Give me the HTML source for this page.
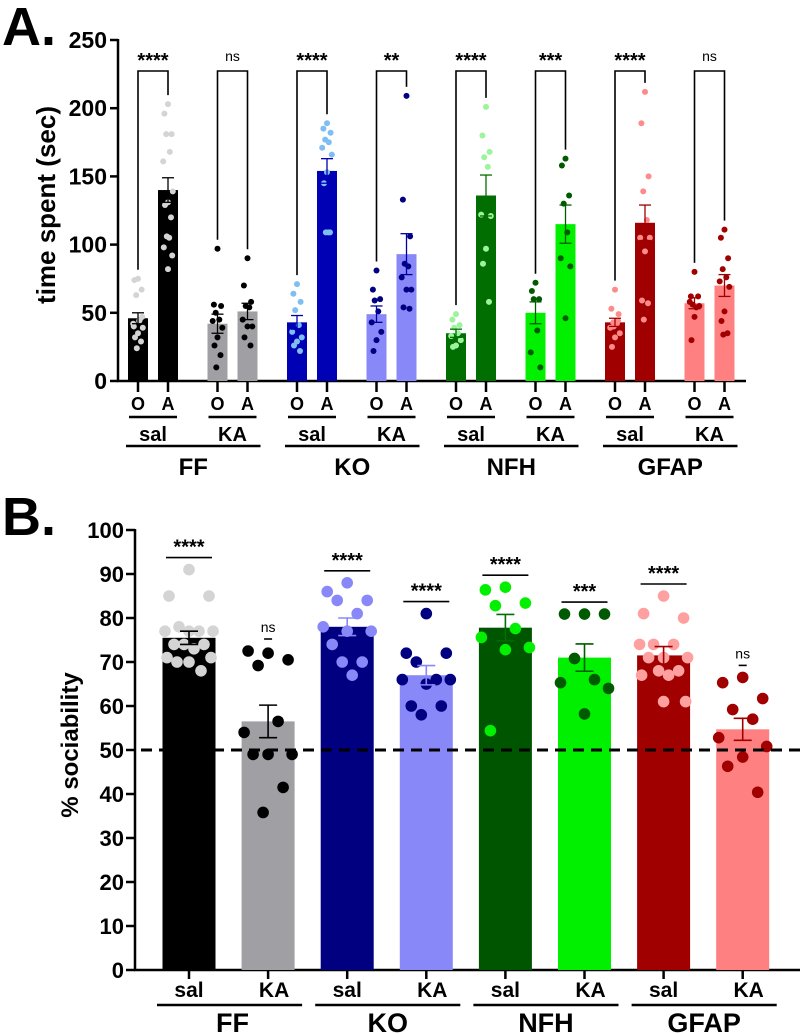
<!DOCTYPE html>
<html><head><meta charset="utf-8"><style>
html,body{margin:0;padding:0;background:#fff;}
svg{display:block;font-family:"Liberation Sans",Arial,sans-serif;}
</style></head><body>
<svg id="fig" width="800" height="1034" viewBox="0 0 800 1034"></svg>
<script>
// ---------- Panel A data ----------
const aGroups = ["FF","KO","NFH","GFAP"];
const aTreat = ["sal","KA"];
const aMeansO = [46,42,43,49,35,50,43,57];
const aMeansA = [140,51,154,93,136,115,116,70];
const aErrO = [4,7,5,6,3,8,3,4];
const aErrA = [9,6,9,15,15,14,13,8];
const aSig = ["****","ns","****","**","****","***","****","ns"];
const aDotsO = [
 [75,74,67,63,45,42,39,35,32,29,24,44,40,47],
 [97,56,55,50,45,44,39,32,26,19,10],
 [71,64,58,52,41,36,32,29,26,22],
 [81,67,60,59,51,43,36,30,22],
 [49,45,41,39,35,33,30,26,25],
 [72,66,60,60,37,21,10],
 [67,53,49,43,42,39,35,32,25,44,40],
 [80,62,62,56,54,58,55,47,30]
];
const aDotsA = [
 [203,196,181,181,168,161,139,131,129,120,106,105,98,92,82],
 [90,70,58,55,54,45,40,40,32,26],
 [189,185,182,177,175,171,166,153,145,109,109,109],
 [209,133,106,86,84,76,67,67,54,53],
 [201,180,168,164,157,122,121,97,86,58],
 [163,158,136,130,109,90,84,46],
 [212,189,150,139,118,105,105,95,59,57,45],
 [111,105,90,82,76,73,69,51,44,35,34]
];
// ---------- Panel B data ----------
const bMeans = [75.5,56.5,78,67,77.8,71,71.5,54.7];
const bErr = [1.5,3.7,2,2.2,3,3.1,2,2.5];
const bSig = ["****","ns","****","****","****","***","****","ns"];
const bDots = [
 [91,85,85,78,77,77,77,77,74,74,74,73,71,71,70,70,68],
 [72,72.5,70.5,69.2,56.5,54,49,49,49,41.5,35.8],
 [88,86,84,84,81,78,77,77,74,70,70,67],
 [81,72,72,70,66,66,66,65,60,60,58],
 [87,86.4,83.4,82.8,77.6,75.6,73.3,72.8,54.4],
 [80.9,80.9,80.9,70.8,66,65.3,64,58.2],
 [85,81,80,74,74,74,71,71,71,68,68,67,67,61,61],
 [66.5,65.3,61.7,59.2,57,52.8,50.8,48.4,46.3,40.4]
];
const bTicks = [0,10,20,30,40,50,60,70,80,90,100];
const aTicks = [0,50,100,150,200,250];

// styles
const barCol = ["#000000","#a0a0a4","#0000b4","#8888f8","#006e00","#00f000","#a00000","#ff8080"];
const barColB = ["#000000","#a0a0a4","#000080","#8888f8","#005500","#00f000","#a00000","#ff8080"];
const dotColA = ["#d4d4d4","#000000","#7fbef2","#000080","#9cf49c","#005a00","#ff8a8a","#a00000"];
const dotColB = ["#d4d4d4","#000000","#8888f8","#000080","#00f000","#005a00","#ffa0a0","#a00000"];
const errColA = ["#000","#000","#0000b4","#0000a0","#006e00","#005a00","#a00000","#a00000"];
const errColB = ["#000","#000","#8888f8","#8888f8","#006e00","#005a00","#a00000","#a00000"];

const NS="http://www.w3.org/2000/svg";
const svg=document.getElementById('fig');
function mk(tag,attrs,parent){const e=document.createElementNS(NS,tag);for(const k in attrs)e.setAttribute(k,attrs[k]);(parent||svg).appendChild(e);return e;}
function txt(s,attrs,parent){const e=mk('text',attrs,parent);e.textContent=s;return e;}
const jit=[0,-6,6,-3,3,-8,8,0,-5,5,-2,2,-7,7,0,-4,4];

// ---------- Panel A ----------
const gA=mk('g',{});


const ayZero=381, ayScale=1.364;
function ay(v){return ayZero-v*ayScale;}
function axO(i){return 138+i*79.5;}
let t=txt("A.",{x:2,y:45,'font-size':54,'font-weight':'bold'},gA);

let yl=txt("time  spent (sec)",{x:0,y:0,'font-size':26,'font-weight':'bold','text-anchor':'middle',transform:'translate(55,205) rotate(-90)'},gA);

mk('line',{x1:118,y1:39,x2:118,y2:382,stroke:'#000','stroke-width':2.5},gA);
mk('line',{x1:117,y1:381,x2:746,y2:381,stroke:'#000','stroke-width':2.5},gA);
aTicks.forEach(v=>{
  mk('line',{x1:110,y1:ay(v),x2:118,y2:ay(v),stroke:'#000','stroke-width':2.5},gA);
  const e=txt(String(v),{x:107,y:ay(v)+8,'font-size':23,'font-weight':'bold','text-anchor':'end'},gA);
  
});
for(let i=0;i<8;i++){
  const xo=axO(i), xa=xo+30, w=20;
  [[xo,aMeansO[i],aErrO[i],aDotsO[i],'o'],[xa,aMeansA[i],aErrA[i],aDotsA[i],'a']].forEach(([cx,m,er,dots,k])=>{
    const b=mk('rect',{x:cx-w/2,y:ay(m),width:w,height:ayZero-ay(m),fill:barCol[i]},gA);
    
    
    dots.forEach((v,j)=>{
      const d=mk('circle',{cx:cx+jit[j%jit.length]*0.6,cy:ay(v),r:3,fill:dotColA[i]},gA);
      
      
    });
    mk('line',{x1:cx,y1:ay(m+er),x2:cx,y2:ay(m-er),stroke:errColA[i],'stroke-width':1.3},gA);
    mk('line',{x1:cx-6,y1:ay(m+er),x2:cx+6,y2:ay(m+er),stroke:errColA[i],'stroke-width':1.3},gA);
    mk('line',{x1:cx-6,y1:ay(m-er),x2:cx+6,y2:ay(m-er),stroke:errColA[i],'stroke-width':1.3},gA);
    mk('line',{x1:cx,y1:381,x2:cx,y2:392,stroke:'#000','stroke-width':2.5},gA);
    const l=txt(k==='o'?'O':'A',{x:cx,y:410,'font-size':18,'font-weight':'bold','text-anchor':'middle'},gA);
    
  });
  const topO=Math.max(Math.max(...aDotsO[i]),aMeansO[i]+aErrO[i]);
  const topA=Math.max(Math.max(...aDotsA[i]),aMeansA[i]+aErrA[i]);
  const br=mk('path',{d:`M${xo},${ay(topO)-9} V71 H${xa} V${ay(topA)-9}`,fill:'none',stroke:'#000','stroke-width':1.6},gA);
  
  const s=txt(aSig[i],{x:xo+15,y:aSig[i]==='ns'?61:67,'font-size':aSig[i]==='ns'?14:20,'font-weight':aSig[i]==='ns'?'normal':'bold','text-anchor':'middle'},gA);
  
  mk('line',{x1:xo-9,y1:417,x2:xa+9,y2:417,stroke:'#000','stroke-width':2.5},gA);
  const tl=txt(aTreat[i%2],{x:xo+15,y:441,'font-size':20,'font-weight':'bold','text-anchor':'middle'},gA);
  
}
for(let g=0;g<4;g++){
  const x1=axO(2*g)-12, x2=axO(2*g+1)+43;
  mk('line',{x1:x1,y1:446,x2:x2,y2:446,stroke:'#000','stroke-width':2.5},gA);
  const gl=txt(aGroups[g],{x:(x1+x2)/2,y:475,'font-size':24,'font-weight':'bold','text-anchor':'middle'},gA);
  
}

// ---------- Panel B ----------
const gB=mk('g',{});


const byZero=970, byScale=4.4;
function by(v){return byZero-v*byScale;}
function bx(i){return 189+i*79.1;}
t=txt("B.",{x:2,y:535,'font-size':54,'font-weight':'bold'},gB);

yl=txt("% sociability",{x:0,y:0,'font-size':24,'font-weight':'bold','text-anchor':'middle',transform:'translate(78,745) rotate(-90)'},gB);

mk('line',{x1:135,y1:529,x2:135,y2:971,stroke:'#000','stroke-width':2.5},gB);
mk('line',{x1:134,y1:970,x2:800,y2:970,stroke:'#000','stroke-width':2.5},gB);
bTicks.forEach(v=>{
  mk('line',{x1:126,y1:by(v),x2:135,y2:by(v),stroke:'#000','stroke-width':2.5},gB);
  const e=txt(String(v),{x:124,y:by(v)+8,'font-size':22,'font-weight':'bold','text-anchor':'end'},gB);
  
});
const bTreat=["sal","KA"];
const jitB=[0,-20,20,-10,10,-24,24,0,-15,15,-5,5,-22,22,0,-12,12];
for(let i=0;i<8;i++){
  const cx=bx(i), w=53, m=bMeans[i], er=bErr[i];
  const b=mk('rect',{x:cx-w/2,y:by(m),width:w,height:byZero-by(m),fill:barColB[i]},gB);
  
  
  bDots[i].forEach((v,j)=>{
    const d=mk('circle',{cx:cx+jitB[j%jitB.length],cy:by(v),r:5.8,fill:dotColB[i]},gB);
    
    
  });
  mk('line',{x1:cx,y1:by(m+er),x2:cx,y2:by(m-er),stroke:errColB[i],'stroke-width':1.6},gB);
  mk('line',{x1:cx-9,y1:by(m+er),x2:cx+9,y2:by(m+er),stroke:errColB[i],'stroke-width':1.6},gB);
  mk('line',{x1:cx-9,y1:by(m-er),x2:cx+9,y2:by(m-er),stroke:errColB[i],'stroke-width':1.6},gB);
  const top=Math.max(Math.max(...bDots[i]),m+er);
  const sy=by(top)-12;
  const hw=bSig[i]==='ns'?4:23;
  mk('line',{x1:cx-hw,y1:sy,x2:cx+hw,y2:sy,stroke:'#000','stroke-width':1.6},gB);
  const s=txt(bSig[i],{x:cx,y:bSig[i]==='ns'?sy-7:sy-4,'font-size':bSig[i]==='ns'?14:20,'font-weight':bSig[i]==='ns'?'normal':'bold','text-anchor':'middle'},gB);
  
  mk('line',{x1:cx,y1:970,x2:cx,y2:979,stroke:'#000','stroke-width':2.5},gB);
  const l=txt(bTreat[i%2],{x:cx+(i%2?6:0),y:997,'font-size':21,'font-weight':'bold','text-anchor':'middle'},gB);
  
}
const dl=mk('line',{x1:141,y1:by(50),x2:800,y2:by(50),stroke:'#000','stroke-width':3,'stroke-dasharray':'11,7'},gB);

for(let g=0;g<4;g++){
  const x1=bx(2*g)-32, x2=bx(2*g+1)+34;
  mk('line',{x1:x1,y1:1005,x2:x2,y2:1005,stroke:'#000','stroke-width':2.5},gB);
  const gl=txt(aGroups[g],{x:(x1+x2)/2+(g===0?3:0),y:1032,'font-size':27,'font-weight':'bold','text-anchor':'middle'},gB);
  
}
</script>
</body></html>
